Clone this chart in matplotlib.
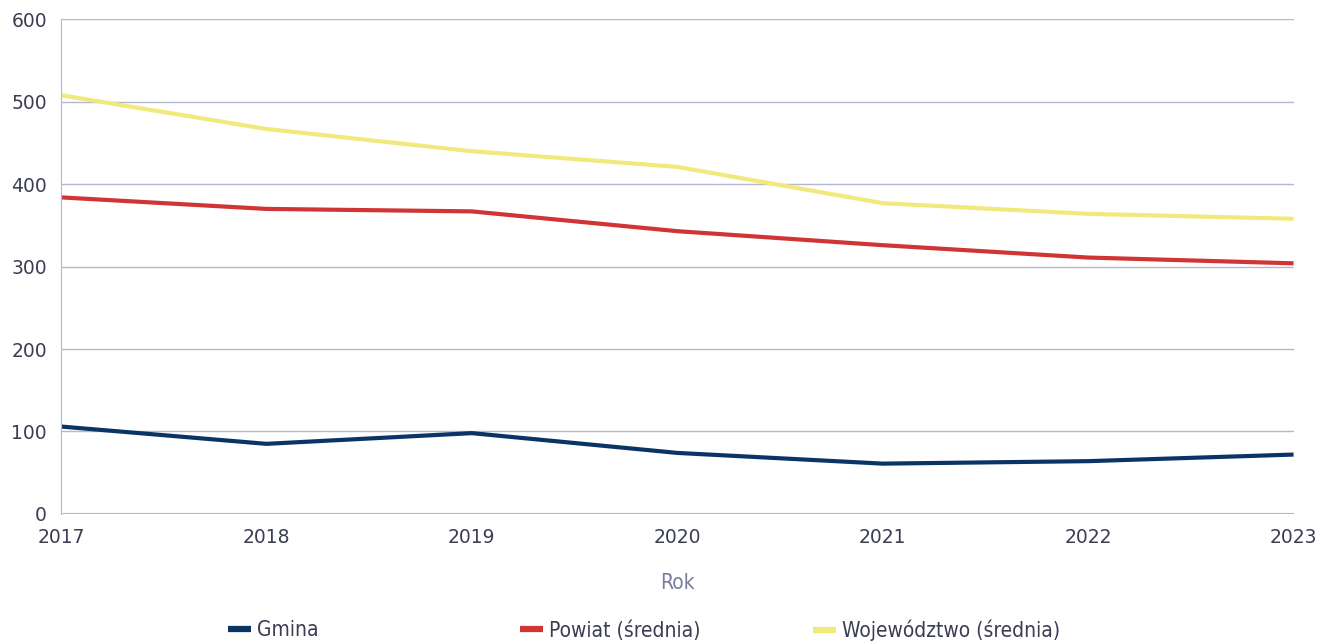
import matplotlib
matplotlib.use("Agg")
import matplotlib.pyplot as plt

LATA = [2017, 2018, 2019, 2020, 2021, 2022, 2023]
GMINA = [106, 85, 98, 74, 61, 64, 72]
POWIAT = [384, 370, 367, 343, 326, 311, 304]
WOJEWODZTWO = [508, 467, 440, 421, 377, 364, 358]

SERIE = [
    ("Gmina", GMINA, "#0b3466"),
    ("Powiat (średnia)", POWIAT, "#d03434"),
    ("Województwo (średnia)", WOJEWODZTWO, "#f1e97c"),
]
# lewa krawedz kazdego wpisu legendy (ulamek szerokosci)
LEGENDA_X = [0.172, 0.393, 0.614]

KOLOR_TEKST = "#3b3d52"
KOLOR_SIATKA = "#b6b7cf"

fig = plt.figure(figsize=(13.24, 6.44), dpi=100)
ax = fig.add_axes([0.046, 0.202, 0.931, 0.768])

linie = []
for nazwa, wartosci, kolor in SERIE:
    l, = ax.plot(LATA, wartosci, color=kolor, linewidth=3, label=nazwa, solid_capstyle="butt")
    linie.append(l)

ax.set_xlim(2017, 2023)
ax.set_ylim(0, 600)
ax.set_yticks(range(0, 601, 100))
ax.set_xticks(LATA)
ax.grid(axis="y", color=KOLOR_SIATKA, linewidth=1)
ax.axhline(0, color=KOLOR_SIATKA, linewidth=1.5, zorder=0.5)
ax.set_axisbelow(True)
for s in ["top", "right", "bottom"]:
    ax.spines[s].set_visible(False)
ax.spines["left"].set_color(KOLOR_SIATKA)
ax.tick_params(length=0, labelsize=13.5, labelcolor=KOLOR_TEKST)
ax.tick_params(axis="y", pad=10)
ax.tick_params(axis="x", pad=10)

ax.set_xlabel("Rok", fontsize=15, color="#7a7c9c", labelpad=19, fontstretch="condensed")

for l, x in zip(linie, LEGENDA_X):
    leg = fig.legend([l], [l.get_label()], loc="center left", bbox_to_anchor=(x, 0.021),
                     frameon=False, handlelength=1.1, handletextpad=0.3,
                     borderpad=0, borderaxespad=0,
                     prop={"size": 15, "stretch": "condensed"}, labelcolor=KOLOR_TEKST)
    for h in leg.legend_handles:
        h.set_linewidth(4.5)

fig.savefig("out.png", dpi=100)
